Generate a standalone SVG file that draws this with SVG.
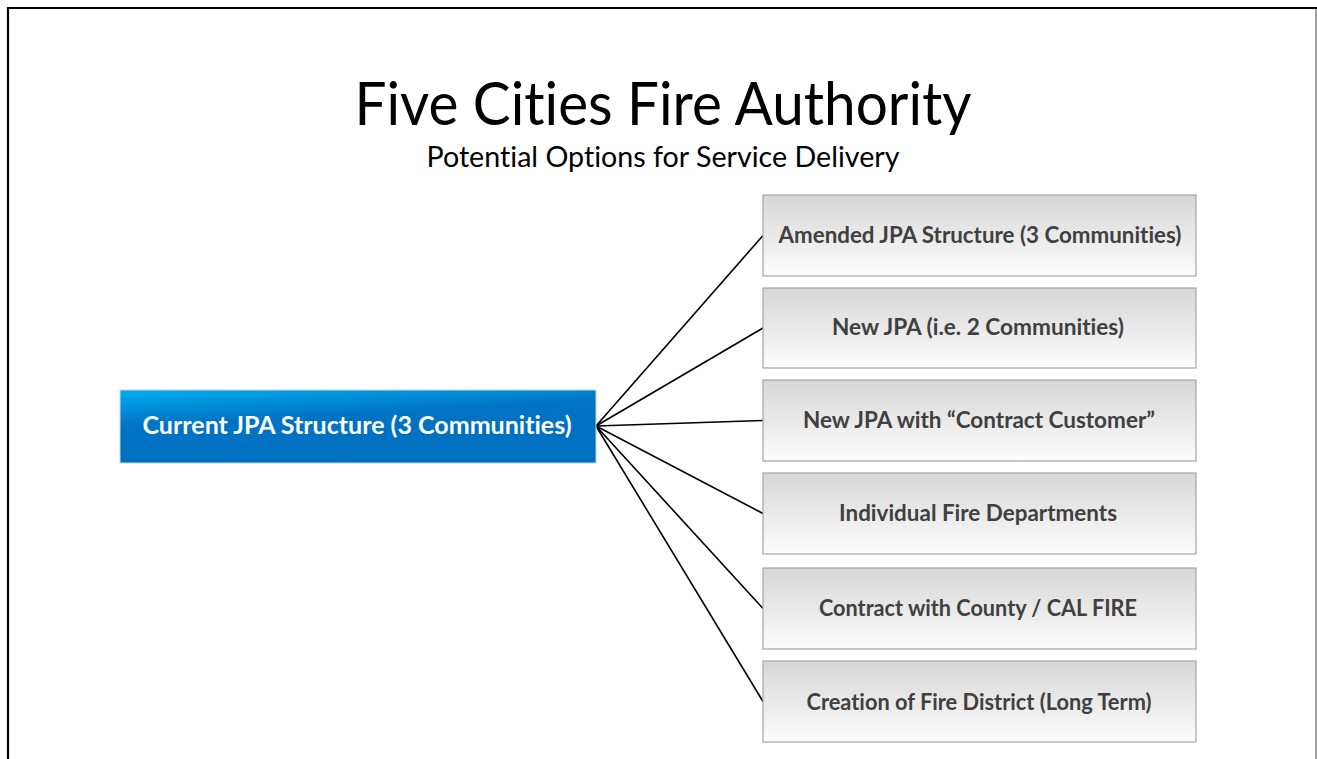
<svg xmlns="http://www.w3.org/2000/svg" width="1317" height="759" viewBox="0 0 1317 759">
<defs>
<linearGradient id="blueGrad" x1="0" y1="0" x2="0.35" y2="1">
<stop offset="0" stop-color="#00aeef"/>
<stop offset="0.45" stop-color="#0073c4"/>
<stop offset="1" stop-color="#0070c0"/>
</linearGradient>
<linearGradient id="grayGrad" x1="0" y1="0" x2="0" y2="1">
<stop offset="0" stop-color="#d6d6d6"/>
<stop offset="1" stop-color="#fdfdfd"/>
</linearGradient>
<style>
text{font-variant-ligatures:none;font-feature-settings:"liga" 0}
.opt rect{fill:url(#grayGrad);stroke:#a6a6a6;stroke-width:1.2}
.opt text{font-family:Lato,"Open Sans","Liberation Sans",sans-serif;font-weight:bold;font-size:22px;fill:#404040;text-anchor:middle}
.conn line{stroke:#000;stroke-width:1.6}
</style>
</defs>
<rect width="1317" height="759" fill="#fff"/>
<g id="frame">
<line x1="7" y1="8" x2="1317" y2="8" stroke="#000" stroke-width="2.2"/>
<line x1="8" y1="7" x2="8" y2="759" stroke="#000" stroke-width="2.2"/>
<line x1="1316" y1="9" x2="1316" y2="759" stroke="#808080" stroke-width="1.5"/>
</g>
<g id="title">
<text x="663" y="125" font-family="Lato,'Open Sans','Liberation Sans',sans-serif" font-size="60" fill="#000" text-anchor="middle" textLength="617" lengthAdjust="spacingAndGlyphs">Five Cities Fire Authority</text>
<text x="663" y="167" font-family="Lato,'Open Sans','Liberation Sans',sans-serif" font-size="28" fill="#000" text-anchor="middle" textLength="473" lengthAdjust="spacingAndGlyphs">Potential Options for Service Delivery</text>
</g>
<g class="conn" id="connectors">
<line x1="596" y1="426" x2="763" y2="235.5"/>
<line x1="596" y1="426" x2="763" y2="328"/>
<line x1="596" y1="426" x2="763" y2="420.5"/>
<line x1="596" y1="426" x2="763" y2="513.5"/>
<line x1="596" y1="426" x2="763" y2="608.5"/>
<line x1="596" y1="426" x2="763" y2="701.5"/>
</g>
<g id="current">
<rect x="120" y="390" width="476" height="73" fill="url(#blueGrad)" stroke="#bdd7ee" stroke-width="1"/>
<text x="357" y="434" font-family="Lato,'Open Sans','Liberation Sans',sans-serif" font-weight="bold" font-size="25" fill="#fff" text-anchor="middle" textLength="429" lengthAdjust="spacingAndGlyphs">Current JPA Structure (3 Communities)</text>
</g>
<g class="opt" id="opt1">
<rect x="763" y="195" width="433" height="81"/>
<text x="980" y="243" textLength="403" lengthAdjust="spacingAndGlyphs">Amended JPA Structure (3 Communities)</text>
</g>
<g class="opt" id="opt2">
<rect x="763" y="288" width="433" height="80"/>
<text x="978" y="335" textLength="292" lengthAdjust="spacingAndGlyphs">New JPA (i.e. 2 Communities)</text>
</g>
<g class="opt" id="opt3">
<rect x="763" y="380" width="433" height="81"/>
<text x="979" y="428" textLength="352" lengthAdjust="spacingAndGlyphs">New JPA with “Contract Customer”</text>
</g>
<g class="opt" id="opt4">
<rect x="763" y="473" width="433" height="81"/>
<text x="978" y="521" textLength="278" lengthAdjust="spacingAndGlyphs">Individual Fire Departments</text>
</g>
<g class="opt" id="opt5">
<rect x="763" y="568" width="433" height="81"/>
<text x="978" y="616" textLength="318" lengthAdjust="spacingAndGlyphs">Contract with County / CAL FIRE</text>
</g>
<g class="opt" id="opt6">
<rect x="763" y="661" width="433" height="81"/>
<text x="979" y="710" textLength="345" lengthAdjust="spacingAndGlyphs">Creation of Fire District (Long Term)</text>
</g>
</svg>
